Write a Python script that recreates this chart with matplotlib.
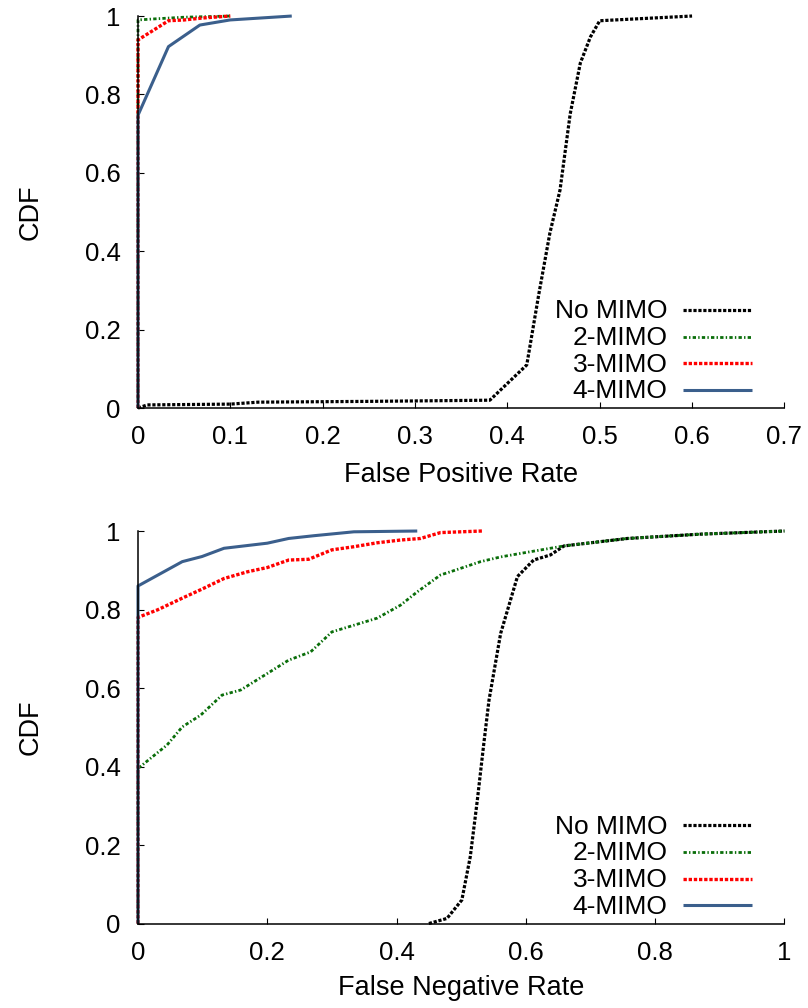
import matplotlib
matplotlib.use("Agg")
import matplotlib.pyplot as plt
from matplotlib.lines import Line2D
from matplotlib.ticker import FuncFormatter

plt.rcParams['font.family'] = ['Liberation Sans', 'DejaVu Sans']
plt.rcParams['font.size'] = 18.5

labels = ["No MIMO", "2-MIMO", "3-MIMO", "4-MIMO"]

# false positive rate CDFs
fp_x = {
    "No MIMO": [0, 0.01, 0.1, 0.13, 0.25, 0.381, 0.421, 0.434, 0.446, 0.457, 0.468, 0.479, 0.490, 0.5, 0.6],
    "2-MIMO": [0, 0, 0.02, 0.05, 0.1],
    "3-MIMO": [0, 0, 0.033, 0.05, 0.07, 0.1],
    "4-MIMO": [0, 0, 0.033, 0.067, 0.0997, 0.1665],
}
fp_y = {
    "No MIMO": [0, 0.008, 0.01, 0.015, 0.017, 0.02, 0.11, 0.29, 0.446, 0.556, 0.75, 0.88, 0.947, 0.988, 1.0],
    "2-MIMO": [0, 0.99, 0.993, 0.997, 1.0],
    "3-MIMO": [0, 0.939, 0.988, 0.99, 0.995, 1.0],
    "4-MIMO": [0, 0.747, 0.922, 0.977, 0.99, 1.0],
}

# false negative rate CDFs
fn_x = {
    "No MIMO": [0.45, 0.478, 0.501, 0.514, 0.525, 0.535, 0.543, 0.561, 0.587, 0.612, 0.638, 0.659, 0.757, 0.87, 1.0],
    "2-MIMO": [0, 0, 0.045, 0.0685, 0.097, 0.130, 0.159, 0.2, 0.233, 0.267, 0.300, 0.334, 0.370, 0.406,
               0.432, 0.468, 0.483, 0.530, 0.561, 0.592, 0.659, 0.757, 0.87, 1.0],
    "3-MIMO": [0, 0, 0.03, 0.0685, 0.099, 0.133, 0.169, 0.2, 0.233, 0.264, 0.3, 0.334, 0.37, 0.406,
               0.437, 0.468, 0.532],
    "4-MIMO": [0, 0, 0.0685, 0.099, 0.133, 0.2, 0.233, 0.272, 0.334, 0.432],
}
fn_y = {
    "No MIMO": [0, 0.013, 0.06, 0.17, 0.315, 0.459, 0.569, 0.739, 0.884, 0.926, 0.939, 0.962, 0.981, 0.992, 1.0],
    "2-MIMO": [0, 0.395, 0.455, 0.501, 0.531, 0.582, 0.595, 0.637, 0.671, 0.692, 0.743, 0.760, 0.778, 0.811,
               0.845, 0.888, 0.896, 0.922, 0.934, 0.943, 0.962, 0.981, 0.992, 1.0],
    "3-MIMO": [0, 0.78, 0.799, 0.829, 0.852, 0.879, 0.896, 0.907, 0.926, 0.928, 0.952, 0.96, 0.97, 0.977,
               0.981, 0.996, 1.0],
    "4-MIMO": [0, 0.86, 0.922, 0.935, 0.956, 0.969, 0.981, 0.988, 0.998, 1.0],
}

styles = {
    "No MIMO": dict(color="black", lw=2.3, ls=(0, (1, 0.55))),
    "2-MIMO": dict(color="#0a6e0a", lw=2.0, ls=(0, (1.2, 0.8, 0.5, 0.8))),
    "3-MIMO": dict(color="#ff0000", lw=2.4, ls=(0, (1, 0.55))),
    "4-MIMO": dict(color="#3b5f8c", lw=2.2, ls="-"),
}

fig = plt.figure(figsize=(8.08, 10.08), dpi=100)
ax1 = fig.add_axes([0.1708, 0.5952, 0.8, 0.3889])
ax2 = fig.add_axes([0.1708, 0.0838, 0.8, 0.3894])


def fmt(v, pos):
    return "%g" % round(v, 2)


def key(ax):
    # gnuplot-style key: right-aligned text, line sample after it
    rows = [0.25, 0.182, 0.114, 0.046]
    for name, yr in zip(labels, rows):
        st = styles[name]
        ax.text(0.819, yr - 0.021, name, transform=ax.transAxes, ha="right",
                va="baseline", fontsize=19)
        ax.add_line(Line2D([0.843, 0.950], [yr, yr], transform=ax.transAxes,
                           color=st["color"], lw=st["lw"], ls=st["ls"],
                           dash_capstyle="butt", solid_capstyle="butt"))


def setup(ax, xs, ys, xmax, xstep, xlabel, xlab_y):
    for name in labels:
        st = styles[name]
        ax.plot(xs[name], ys[name], label=name, color=st["color"], lw=st["lw"],
                ls=st["ls"], dash_capstyle="butt", solid_capstyle="butt", clip_on=False)
    ax.set_xlim(0, xmax)
    ax.set_ylim(0, 1)
    ax.set_xticks([i * xstep for i in range(int(round(xmax / xstep)) + 1)])
    ax.set_yticks([0, 0.2, 0.4, 0.6, 0.8, 1])
    ax.xaxis.set_major_formatter(FuncFormatter(fmt))
    ax.yaxis.set_major_formatter(FuncFormatter(fmt))
    for s in ("top", "right"):
        ax.spines[s].set_visible(False)
    for s in ("left", "bottom"):
        ax.spines[s].set_linewidth(1.1)
    ax.tick_params(direction="in", length=4.5, width=0.8, pad=12.5)
    ax.set_xlabel(xlabel, fontsize=19.5)
    ax.set_ylabel("CDF", fontsize=19.5)
    ax.xaxis.set_label_coords(0.5, xlab_y)
    ax.yaxis.set_label_coords(-0.146, 0.5)
    key(ax)


setup(ax1, fp_x, fp_y, 0.7, 0.1, "False Positive Rate", -0.138)
setup(ax2, fn_x, fn_y, 1.0, 0.2, "False Negative Rate", -0.131)

fig.savefig("out.png", dpi=100)
